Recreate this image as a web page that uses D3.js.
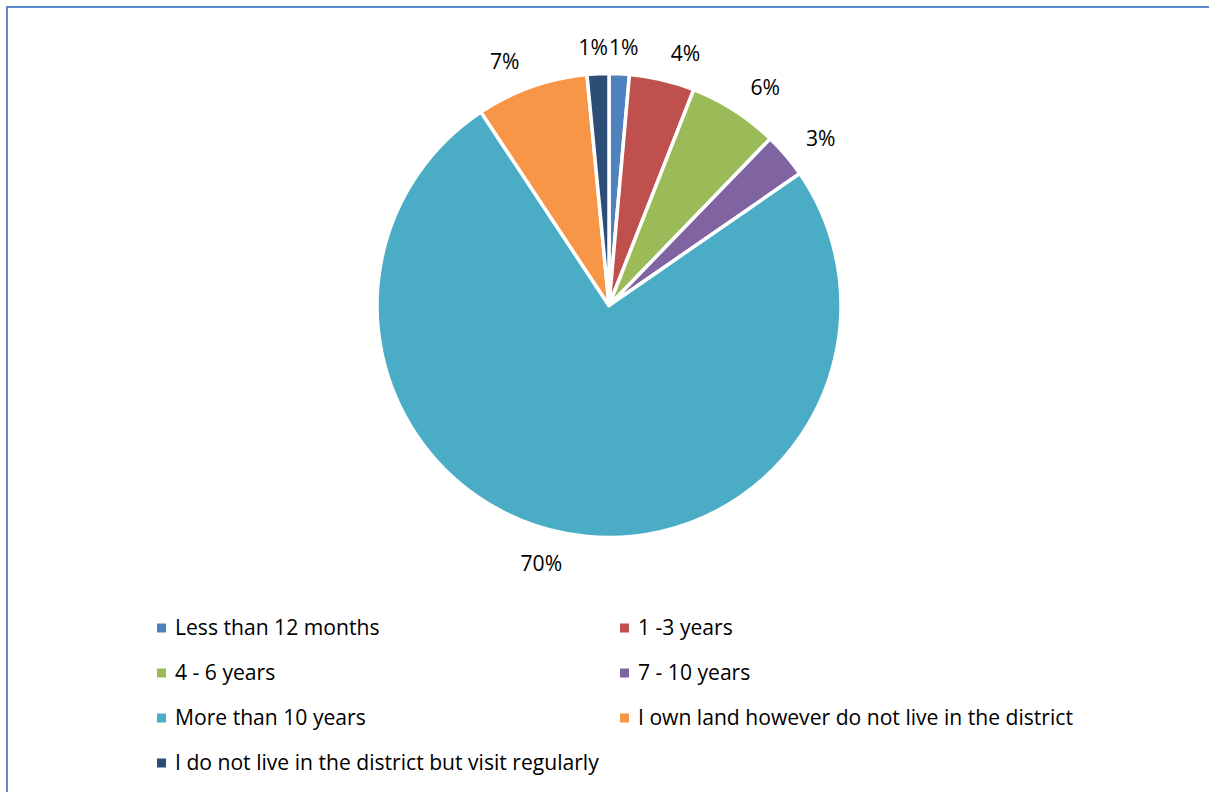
<!DOCTYPE html>
<html>
<head>
<meta charset="utf-8">
<script src="https://cdn.jsdelivr.net/npm/d3@7"></script>
<style>
  html, body { margin: 0; padding: 0; background: #fff; }
  svg { display: block; }
  text { font-family: "Open Sans", Lato, sans-serif; fill: #000; }
</style>
</head>
<body>
<svg id="chart" width="1209" height="792"></svg>
<script>
// Data (labels show rounded values)
const categories = [
  "Less than 12 months",
  "1 -3 years",
  "4 - 6 years",
  "7 - 10 years",
  "More than 10 years",
  "I own land however do not live in the district",
  "I do not live in the district but visit regularly"
];
const values = [1.3, 4.2, 5.8, 2.9, 69.6, 7.2, 1.4];
const colors = ["#4f81bd", "#c0504d", "#9bbb59", "#8064a2", "#4bacc6", "#f79646", "#2c4d75"];

const svg = d3.select("#chart");
const W = 1209, H = 792;

// outer frame
svg.append("rect")
  .attr("x", 7).attr("y", 7)
  .attr("width", W + 20).attr("height", H + 20)
  .attr("fill", "none")
  .attr("stroke", "#5b8cc8")
  .attr("stroke-width", 2);

// fit font size so legend text width matches the reference layout
const probe = svg.append("text").attr("font-size", 18).text(categories[5]);
const probeW = probe.node().getComputedTextLength();
probe.remove();
const fontSize = 18 * 435 / probeW;

const cx = 609, cy = 305.5, r = 232;
const data = categories.map((c, i) => ({ name: c, value: values[i], color: colors[i] }));

const pie = d3.pie().value(d => d.value).sort(null);
const arcs = pie(data);
const arc = d3.arc().innerRadius(0).outerRadius(r);

const g = svg.append("g").attr("transform", `translate(${cx},${cy})`);
g.selectAll("path.slice")
  .data(arcs)
  .enter().append("path")
  .attr("class", "slice")
  .attr("d", arc)
  .attr("fill", d => d.data.color)
  .attr("stroke", "#fff")
  .attr("stroke-width", 3.5)
  .attr("stroke-linejoin", "round");

// data labels (outside end)
const labelR = r + 18.5;
const lbl = g.selectAll("text.lbl")
  .data(arcs)
  .enter().append("text")
  .attr("class", "lbl")
  .attr("font-size", fontSize)
  .attr("text-anchor", "middle")
  .attr("dy", "0.35em")
  .text(d => Math.round(d.data.value) + "%");

lbl.each(function(d) {
  const a = (d.startAngle + d.endAngle) / 2;
  const s = Math.sin(a), c = -Math.cos(a);
  const w = this.getComputedTextLength();
  const h = 16;
  const hx = (w / 2 + 6) * Math.max(-1, Math.min(1, 4 * s));
  d3.select(this)
    .attr("x", labelR * s + hx)
    .attr("y", (labelR + h / 2) * c + 4 * Math.max(0, c));
});

// legend
const cols = [157, 620];
const rowsY = [628, 673, 718, 763];
const lg = svg.append("g");
data.forEach((d, i) => {
  const col = i % 2, row = Math.floor(i / 2);
  const x = cols[col], y = rowsY[row];
  lg.append("rect")
    .attr("x", x).attr("y", y - 4.5)
    .attr("width", 9).attr("height", 9)
    .attr("fill", d.color);
  lg.append("text")
    .attr("x", x + 18).attr("y", y)
    .attr("dy", "0.35em")
    .attr("font-size", fontSize)
    .text(d.name);
});
</script>
</body>
</html>
